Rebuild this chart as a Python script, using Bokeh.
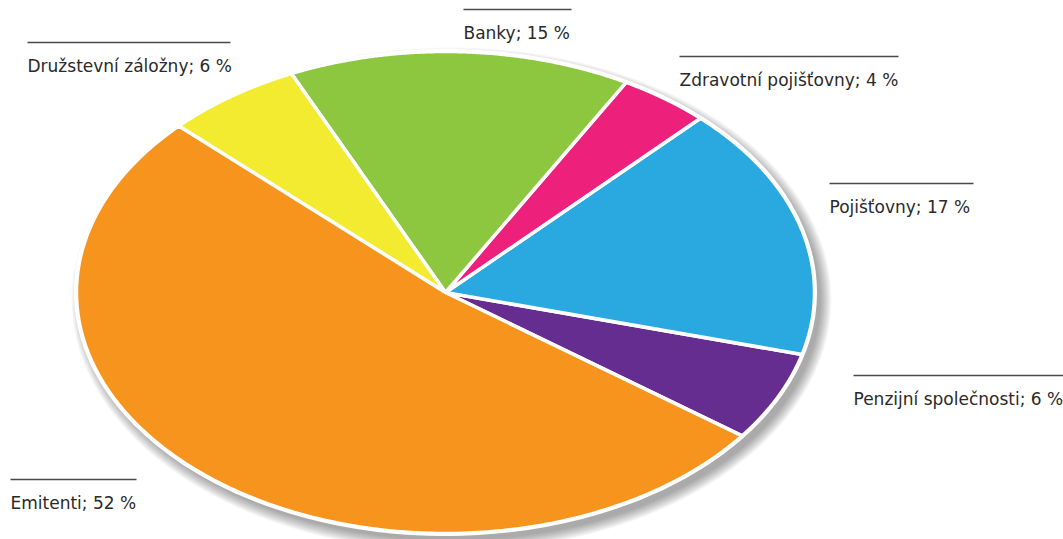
import numpy as np
from bokeh.plotting import figure
from bokeh.models import Range1d
from bokeh.core.properties import value
from bokeh.embed import file_html
from bokeh.resources import INLINE

# ---- data ----
categories = ["Penzijní společnosti", "Pojišťovny", "Zdravotní pojišťovny",
              "Banky", "Družstevní záložny", "Emitenti"]
shares = [6, 17, 4, 15, 6, 52]
colors = ["#662D91", "#29A9E0", "#ED217B", "#8DC63F", "#F2EB30", "#F7941D"]
labels = [f"{c}; {v} %" for c, v in zip(categories, shares)]

# ---- layout (screen pixel coordinates, y downwards) ----
CX, CY, RX, RY = 445, 292, 369, 241
START_DEG = -36.5
label_x = [853, 829, 679, 463, 27, 10]
label_base = [398, 206, 79, 32, 65, 502]
label_w = [210, 144, 219, 108, 203, 126]

W, H = 1063, 539
p = figure(width=W, height=H, output_backend="svg", toolbar_location=None,
           x_range=Range1d(0, W), y_range=Range1d(H, 0),
           min_border=0)
p.axis.visible = False
p.grid.visible = False
p.outline_line_color = None
p.background_fill_color = "white"
p.border_fill_color = "white"

# shadow
for d in range(0, 12):
    p.ellipse(x=CX + 6, y=CY + 7, width=2 * RX + 2 * d, height=2 * RY + 2 * d,
              fill_color="black", fill_alpha=0.03, line_color=None)

# slices
tot = float(sum(shares))
cum = np.concatenate([[0.0], np.cumsum(shares)]) / tot * 360.0 + START_DEG
xs, ys = [], []
for i in range(len(shares)):
    t = np.radians(np.linspace(cum[i], cum[i + 1], 240))
    xs.append(list(np.concatenate([[CX], CX + RX * np.cos(t)])))
    ys.append(list(np.concatenate([[CY], CY - RY * np.sin(t)])))
p.patches(xs=xs, ys=ys, fill_color=colors, line_color="white", line_width=3.5,
          line_join="round")
p.ellipse(x=CX, y=CY, width=2 * RX + 2, height=2 * RY + 2, fill_color=None,
          line_color="white", line_width=3)

# labels with rule above
lx = np.array(label_x)
lb = np.array(label_base)
lw = np.array(label_w)
p.segment(x0=lx, y0=lb - 23, x1=lx + lw, y1=lb - 23, line_color="#4a4a4a",
          line_width=1.5)
p.text(x=lx, y=lb, text=labels, text_font=value("DejaVu Sans"),
       text_font_size="17px", text_color="#2a2a2a", text_baseline="alphabetic",
       text_align="left")

open("out.html", "w").write(file_html(p, INLINE))
